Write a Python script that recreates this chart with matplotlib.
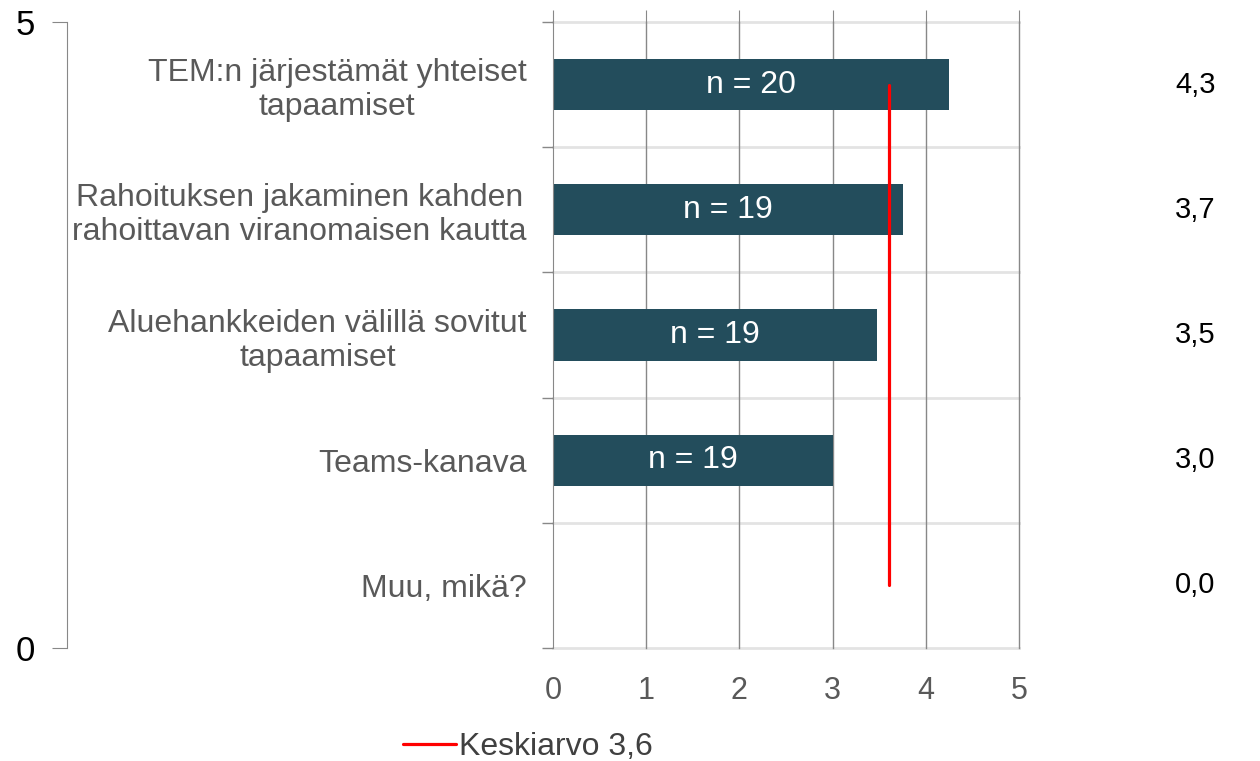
import numpy as np
import matplotlib.pyplot as plt

plt.rcParams['font.family'] = ['Liberation Sans', 'DejaVu Sans']

categories = ["TEM:n järjestämät yhteiset\ntapaamiset",
              "Rahoituksen jakaminen kahden\nrahoittavan viranomaisen kautta",
              "Aluehankkeiden välillä sovitut\ntapaamiset",
              "Teams-kanava",
              "Muu, mikä?"]
values = [4.25, 3.75, 3.48, 3.0, 0.0]
n_labels = ["n = 20", "n = 19", "n = 19", "n = 19", ""]
right_labels = ["4,3", "3,7", "3,5", "3,0", "0,0"]
mean_value = 3.6
mean_label = "Keskiarvo 3,6"

W, H = 1260, 761
fig = plt.figure(figsize=(W / 100, H / 100), dpi=100)
x0, x1, y0, y1 = 553, 1019, 22, 648
ax = fig.add_axes([x0 / W, 1 - y1 / H, (x1 - x0) / W, (y1 - y0) / H])

ypos = np.arange(len(categories))
bar_color = "#234D5C"
ax.barh(ypos, values, height=0.41, color=bar_color, zorder=2)
for y, v, lab in zip(ypos, values, n_labels):
    if lab:
        ax.text(v / 2, y, lab, color="white", fontsize=23, ha="center", va="center", zorder=3)

line, = ax.plot([mean_value] * len(ypos), ypos, color="#FF0000", lw=2.3,
                solid_capstyle="round", zorder=4)

ax.set_xlim(0, 5)
ax.set_ylim(len(categories) - 0.5, -0.5)
ax.set_xticks(range(6))
ax.set_yticks(ypos)
ax.set_yticklabels(categories, fontsize=23, color="#595959", multialignment="center",
                   linespacing=1.18)
ax.set_yticks(np.arange(-0.5, len(categories), 1.0), minor=True)
ax.tick_params(axis="y", which="major", length=0, pad=19)
ax.tick_params(axis="y", which="minor", length=8, color="#888888", width=1)
ax.tick_params(axis="x", which="major", labelsize=22, labelcolor="#595959", pad=11,
               top=True, bottom=False, length=9, direction="out", color="#888888")
for s in ["top", "right", "bottom"]:
    ax.spines[s].set_visible(False)
ax.spines["left"].set_color("#888888")

# light horizontal separators and darker vertical gridlines
for b in np.arange(-0.5, len(categories), 1.0):
    ax.axhline(b, color="#E3E3E3", lw=2, zorder=1, clip_on=False)
for t in range(1, 6):
    ax.axvline(t, color="#888888", lw=1, zorder=1.5, clip_on=False)

for y, lab in zip(ypos, right_labels):
    ax.text(1.378, y, lab, transform=ax.get_yaxis_transform(), fontsize=21,
            color="black", ha="center", va="center")

# secondary axis on the far left
ax2 = fig.add_axes([67 / W, 1 - y1 / H, 0.001, (y1 - y0) / H])
ax2.set_ylim(0, 5)
ax2.set_yticks([0, 5])
ax2.set_xticks([])
ax2.tick_params(axis="y", length=11, color="#888888", labelsize=25, labelcolor="black", pad=12)
for s in ["top", "right", "bottom"]:
    ax2.spines[s].set_visible(False)
ax2.spines["left"].set_color("#888888")
ax2.patch.set_visible(False)

fig.legend([line], [mean_label], loc="center", bbox_to_anchor=(528 / W, 1 - 747 / H),
           frameon=False, fontsize=23, handlelength=1.65, handletextpad=0.12,
           labelcolor="#404040")

fig.savefig("out.png", dpi=100)
